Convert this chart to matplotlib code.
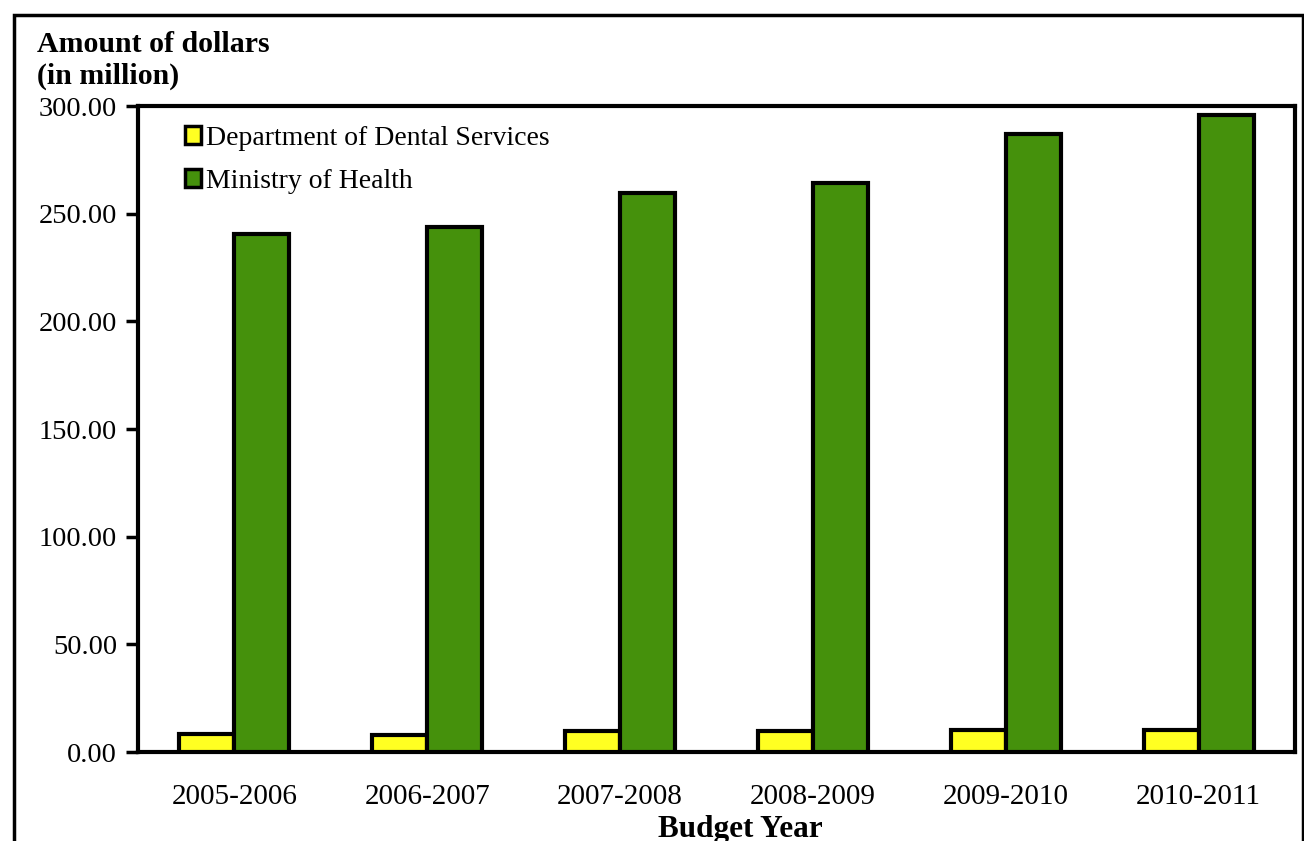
import matplotlib
matplotlib.use("Agg")
import matplotlib.pyplot as plt
import numpy as np
from matplotlib.patches import Rectangle

categories = ["2005-2006", "2006-2007", "2007-2008", "2008-2009", "2009-2010", "2010-2011"]
dental = [8.4, 7.9, 9.8, 9.8, 10.2, 10.2]
health = [240.6, 243.8, 259.6, 264.3, 287.0, 295.9]
series_names = ["Department of Dental Services", "Ministry of Health"]
yticks = [0, 50, 100, 150, 200, 250, 300]

plt.rcParams['font.family'] = ['Liberation Serif', 'DejaVu Serif']

fig = plt.figure(figsize=(13.04, 8.41), dpi=100)
ax = fig.add_axes([138/1304, 1-752/841, (1295-138)/1304, (752-106)/841])

x = np.arange(len(categories))
w = 0.285
yellow = "#FFFF22"
green = "#45910C"
ax.bar(x - w/2, dental, w, color=yellow, edgecolor="black", linewidth=3, label=series_names[0], zorder=3)
ax.bar(x + w/2, health, w, color=green, edgecolor="black", linewidth=3, label=series_names[1], zorder=3)

ax.set_xlim(-0.5, len(categories) - 0.5)
ax.set_ylim(0, 300)
ax.set_yticks(yticks)
ax.set_yticklabels([f"{v:.2f}" for v in yticks], fontsize=20.5)
ax.set_xticks(x)
ax.set_xticklabels(categories, fontsize=21)
ax.tick_params(axis='x', length=0, pad=23)
ax.tick_params(axis='y', length=9, width=2.5, direction='out', pad=6)
for s in ax.spines.values():
    s.set_linewidth(3)

leg = ax.legend(loc="upper left", bbox_to_anchor=(0.026, 0.995), frameon=False, fontsize=20,
                handlelength=0.6, handleheight=0.6, handletextpad=0.15, labelspacing=0.65,
                borderaxespad=0.2)
for h in leg.legend_handles:
    h.set_linewidth(2.5)

fig.text(37/1304, 1-45/841, "Amount of dollars", fontsize=21.5, fontweight="bold", va="center", ha="left")
fig.text(37/1304, 1-76/841, "(in million)", fontsize=21.5, fontweight="bold", va="center", ha="left")
fig.text(740/1304, 1-830/841, "Budget Year", fontsize=22.5, fontweight="bold", va="center", ha="center")

# outer chart border
border = Rectangle((14/1304, -0.05), (1303-14)/1304, 1-15/841 + 0.05, transform=fig.transFigure,
                   fill=False, edgecolor="black", linewidth=2.5)
fig.add_artist(border)

fig.savefig("out.png", dpi=100)
